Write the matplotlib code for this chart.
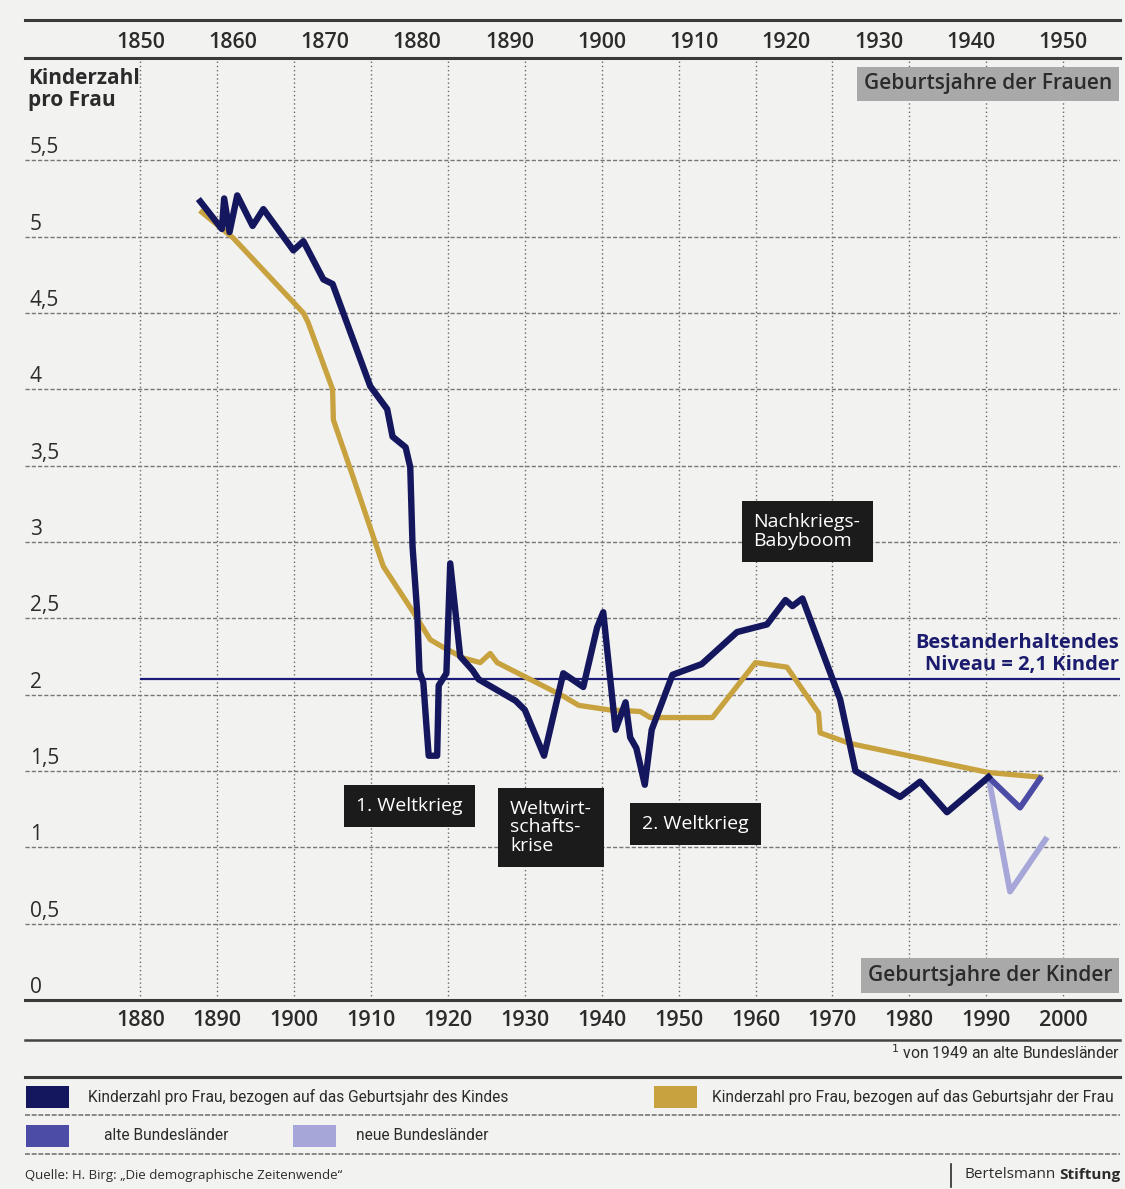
import numpy as np
import matplotlib
matplotlib.use('Agg')
import matplotlib.pyplot as plt
from matplotlib.lines import Line2D
from matplotlib.patches import Rectangle

# Kinderzahl pro Frau, bezogen auf das Geburtsjahr des Kindes
kindJahr = [1887.8, 1890.6, 1890.9, 1891.6, 1892.6, 1894.6, 1896.0, 1899.9, 1901.2, 1903.8,
            1905.0, 1909.9, 1912.1, 1912.8, 1914.5, 1915.1, 1915.4, 1916.0, 1916.3, 1916.8,
            1917.2, 1917.5, 1918.6, 1918.8, 1919.8, 1920.3, 1921.6, 1923.2, 1924.0, 1928.8,
            1930.0, 1932.5, 1935.0, 1937.6, 1939.4, 1940.2, 1941.8, 1943.1, 1943.7, 1944.5,
            1945.6, 1946.5, 1949.2, 1953.0, 1957.6, 1961.5, 1963.9, 1964.8, 1966.1, 1971.0,
            1973.0, 1978.8, 1981.4, 1984.9, 1990.3]
kindWert = [5.23, 5.05, 5.25, 5.03, 5.27, 5.07, 5.18, 4.91, 4.97, 4.72,
            4.69, 4.02, 3.87, 3.69, 3.62, 3.49, 2.97, 2.54, 2.15, 2.08,
            1.80, 1.60, 1.60, 2.06, 2.14, 2.86, 2.25, 2.16, 2.10, 1.96,
            1.90, 1.60, 2.14, 2.05, 2.44, 2.54, 1.77, 1.95, 1.72, 1.65,
            1.41, 1.77, 2.13, 2.20, 2.41, 2.46, 2.62, 2.58, 2.63, 1.97,
            1.50, 1.33, 1.43, 1.23, 1.46]

# Kinderzahl pro Frau, bezogen auf das Geburtsjahr der Frau (auf der Achse der Kinder)
frauJahr = [1888.0, 1892.1, 1901.2, 1901.8, 1905.0, 1905.1, 1907.5, 1911.6, 1915.5, 1917.7,
            1919.4, 1922.0, 1924.2, 1925.5, 1926.4, 1935.0, 1937.0, 1941.0, 1945.0, 1946.3,
            1954.4, 1960.0, 1964.1, 1968.2, 1968.4, 1972.3, 1990.3, 1997.0]
frauWert = [5.16, 4.99, 4.50, 4.44, 4.00, 3.80, 3.45, 2.84, 2.54, 2.36,
            2.31, 2.24, 2.21, 2.27, 2.21, 1.99, 1.93, 1.90, 1.89, 1.85,
            1.85, 2.21, 2.18, 1.88, 1.75, 1.68, 1.49, 1.46]

alteJahr = [1990.3, 1994.4, 1997.0]
alteWert = [1.46, 1.26, 1.45]
neueJahr = [1990.3, 1993.1, 1997.7]
neueWert = [1.46, 0.71, 1.05]

niveau = 2.1
xTicks = list(range(1880, 2001, 10))
xTicksTop = list(range(1850, 1951, 10))
yTicks = [0, 0.5, 1, 1.5, 2, 2.5, 3, 3.5, 4, 4.5, 5, 5.5]
yLabels = ['0', '0,5', '1', '1,5', '2', '2,5', '3', '3,5', '4', '4,5', '5', '5,5']

ereignisse = [('1. Weltkrieg', 1915.0, 1.27),
              ('Weltwirt-\nschafts-\nkrise', 1933.4, 1.13),
              ('2. Weltkrieg', 1952.2, 1.15),
              ('Nachkriegs-\nBabyboom', 1966.7, 3.07)]

navy = '#15175e'
gold = '#c8a23e'
alteC = '#4c4ca6'
neueC = '#a6a6d8'
dark = '#2b2b2b'
W, H = 1125, 1189
small = ['Roboto', 'DejaVu Sans']
plt.rcParams['font.family'] = ['Open Sans', 'DejaVu Sans']

fig = plt.figure(figsize=(W / 100, H / 100), dpi=100, facecolor='#f2f2f0')
ax = fig.add_axes([25 / W, 1 - 1000 / H, 1095 / W, 942 / H])
ax.set_facecolor('none')
ax.set_xlim(1865.0, 2007.4)
ax.set_ylim(0, 6.17)

ax.set_xticks(xTicks)
ax.set_xticklabels([str(t) for t in xTicks], fontsize=15.5, fontweight='semibold', color=dark)
ax.set_yticks(yTicks)
ax.tick_params(axis='x', length=0, pad=7)
ax.tick_params(axis='y', length=0, labelleft=False)
ax.grid(axis='x', linestyle=(0, (1, 2)), color='#6a6a6a', lw=1.0)
ax.grid(axis='y', linestyle=(0, (3, 1.5)), color='#777777', lw=1.0)
for s in ['left', 'right']:
    ax.spines[s].set_visible(False)
for s in ['top', 'bottom']:
    ax.spines[s].set_linewidth(2.2)
    ax.spines[s].set_color('#3a3a3a')

# obere Achse: 1850-1950 ist im Original auf 1880-2000 gestreckt
secax = ax.secondary_xaxis('top', functions=(lambda x: 1850 + (x - 1880) / 1.2,
                                             lambda x: 1880 + (x - 1850) * 1.2))
secax.set_xticks(xTicksTop)
secax.set_xticklabels([str(t) for t in xTicksTop], fontsize=15.5, fontweight='semibold', color=dark)
secax.tick_params(length=0, pad=3.5)
secax.spines['top'].set_visible(False)

for v, lbl in zip(yTicks, yLabels):
    ax.annotate(lbl, xy=(0, v), xycoords=ax.get_yaxis_transform(), xytext=(3.5, 5),
                textcoords='offset points', ha='left', va='baseline', fontsize=15, color=dark)

ax.text(0.003, 1 - 10 / 942, 'Kinderzahl\npro Frau', transform=ax.transAxes, ha='left', va='top',
        fontsize=15, fontweight='bold', color=dark, linespacing=1.05)

# Kurven
ax.hlines(niveau, 1880, 2007.4, color='#1c1c78', lw=1.6, zorder=2)
ax.plot(neueJahr, neueWert, color=neueC, lw=4.2, zorder=3)
ax.plot(frauJahr, frauWert, color=gold, lw=3.8, zorder=4)
ax.plot(alteJahr, alteWert, color=alteC, lw=4.2, zorder=5)
ax.plot(kindJahr, kindWert, color=navy, lw=4.6, zorder=6)

for txt, x, y in ereignisse:
    ax.text(x, y, txt, ha='center', va='center', multialignment='left', color='white',
            fontsize=14, linespacing=1.05, zorder=7,
            bbox=dict(boxstyle='square,pad=0.62', fc='#1b1b1b', ec='none'))

ax.annotate('Bestanderhaltendes\nNiveau = 2,1 Kinder', xy=(1, niveau), xycoords=ax.get_yaxis_transform(),
            xytext=(-1, 3), textcoords='offset points', ha='right', va='bottom', multialignment='right',
            fontsize=14.5, fontweight='bold', color='#1c1c6e', linespacing=1.15, zorder=7)

box = dict(boxstyle='square,pad=0.33', fc='#a9a9a9', ec='none')
ax.text(0.993, 6.0, 'Geburtsjahre der Frauen', transform=ax.get_yaxis_transform(), ha='right',
        va='center', fontsize=15, fontweight='semibold', color=dark, bbox=box, zorder=7)
ax.text(0.993, 0.16, 'Geburtsjahre der Kinder', transform=ax.get_yaxis_transform(), ha='right',
        va='center', fontsize=15, fontweight='semibold', color=dark, bbox=box, zorder=7)

# Rahmenlinien und Legende
def hline(py, lw, color='#3a3a3a', ls='-'):
    fig.add_artist(Line2D([25 / W, 1120 / W], [1 - py / H] * 2, transform=fig.transFigure,
                          lw=lw, color=color, linestyle=ls))

hline(20, 2.2)
hline(1040, 1.8, '#444444')
hline(1077, 2.2)
hline(1115, 1.2, '#777777', (0, (3, 1)))
hline(1154, 1.2, '#777777', (0, (3, 1)))

fig.text(1120 / W, 1 - 1053 / H, '$^1$ von 1949 an alte Bundesländer', ha='right', va='center',
         fontsize=11.3, color=dark, family=small)

legende = [(26, 1097, navy, 88, 'Kinderzahl pro Frau, bezogen auf das Geburtsjahr des Kindes'),
           (654, 1097, gold, 712, 'Kinderzahl pro Frau, bezogen auf das Geburtsjahr der Frau'),
           (26, 1136, alteC, 104, 'alte Bundesländer'),
           (293, 1136, neueC, 356, 'neue Bundesländer')]
for sx, sy, c, tx, txt in legende:
    fig.add_artist(Rectangle((sx / W, 1 - (sy + 11) / H), 43 / W, 22 / H, transform=fig.transFigure,
                             fc=c, ec='none'))
    fig.text(tx / W, 1 - sy / H, txt, ha='left', va='center', fontsize=11.2, color=dark, family=small)

fig.text(25 / W, 1 - 1175 / H, 'Quelle: H. Birg: „Die demographische Zeitenwende“', ha='left',
         va='center', fontsize=9.5, color=dark)
fig.text(1120 / W, 1 - 1175 / H, 'Stiftung', ha='right', va='center', fontsize=11,
         fontweight='bold', color=dark)
fig.text(1056 / W, 1 - 1175 / H, 'Bertelsmann', ha='right', va='center', fontsize=11, color=dark)
fig.add_artist(Line2D([951 / W] * 2, [1 - 1164 / H, 1 - 1187 / H], transform=fig.transFigure,
                      lw=1.2, color=dark))

fig.savefig('out.png', dpi=100, facecolor=fig.get_facecolor())
